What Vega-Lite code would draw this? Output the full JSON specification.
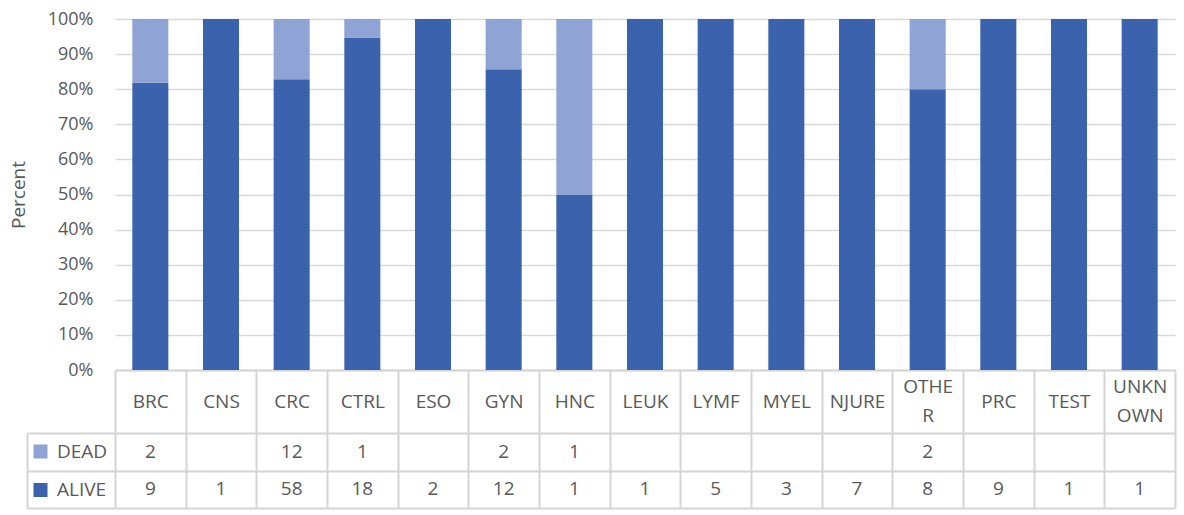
{
  "$schema": "https://vega.github.io/schema/vega-lite/v6.json",
  "padding": {"left": 9, "top": 10, "right": 5, "bottom": 5},
  "datasets": {
    "counts": [
      {"category": "BRC", "status": "ALIVE", "count": 9},
      {"category": "BRC", "status": "DEAD", "count": 2},
      {"category": "CNS", "status": "ALIVE", "count": 1},
      {"category": "CRC", "status": "ALIVE", "count": 58},
      {"category": "CRC", "status": "DEAD", "count": 12},
      {"category": "CTRL", "status": "ALIVE", "count": 18},
      {"category": "CTRL", "status": "DEAD", "count": 1},
      {"category": "ESO", "status": "ALIVE", "count": 2},
      {"category": "GYN", "status": "ALIVE", "count": 12},
      {"category": "GYN", "status": "DEAD", "count": 2},
      {"category": "HNC", "status": "ALIVE", "count": 1},
      {"category": "HNC", "status": "DEAD", "count": 1},
      {"category": "LEUK", "status": "ALIVE", "count": 1},
      {"category": "LYMF", "status": "ALIVE", "count": 5},
      {"category": "MYEL", "status": "ALIVE", "count": 3},
      {"category": "NJURE", "status": "ALIVE", "count": 7},
      {"category": "OTHER", "status": "ALIVE", "count": 8},
      {"category": "OTHER", "status": "DEAD", "count": 2},
      {"category": "PRC", "status": "ALIVE", "count": 9},
      {"category": "TEST", "status": "ALIVE", "count": 1},
      {"category": "UNKNOWN", "status": "ALIVE", "count": 1}
    ]
  },
  "spacing": 63,
  "bounds": "flush",
  "vconcat": [
    {
      "width": 1060,
      "height": 351,
      "data": {"name": "counts"},
      "mark": {"type": "bar", "width": {"band": 0.51}},
      "encoding": {
        "x": {
          "field": "category",
          "type": "nominal",
          "scale": {"type": "band", "paddingInner": 0, "paddingOuter": 0},
          "axis": {
            "orient": "bottom",
            "title": null,
            "labelAngle": 0,
            "tickBand": "extent",
            "tickSize": 63,
            "tickColor": "#D4D4D4",
            "tickWidth": 2,
            "domainColor": "#D4D4D4",
            "domainWidth": 2,
            "labelPadding": {
              "condition": {"test": "datum.value == 'OTHER' || datum.value == 'UNKNOWN'", "value": -46.5},
              "value": -32
            },
            "labelBaseline": "middle",
            "labelFontSize": 19,
            "labelColor": "#595959",
            "labelLineHeight": 29,
            "labelExpr": "datum.label == 'OTHER' ? ['OTHE', 'R'] : datum.label == 'UNKNOWN' ? ['UNKN', 'OWN'] : datum.label",
            "grid": false
          }
        },
        "y": {
          "field": "count",
          "type": "quantitative",
          "stack": "normalize",
          "scale": {"domain": [0, 1]},
          "axis": {
            "values": [0, 0.1, 0.2, 0.3, 0.4, 0.5, 0.6, 0.7, 0.8, 0.9, 1],
            "format": ".0%",
            "domain": false,
            "ticks": false,
            "grid": true,
            "gridColor": "#D9D9D9",
            "gridWidth": 1.5,
            "labelPadding": 22,
            "labelFontSize": 18,
            "labelColor": "#595959",
            "title": "Percent",
            "titleFontSize": 19,
            "titleColor": "#595959",
            "titleFontWeight": "normal",
            "titlePadding": 19
          }
        },
        "color": {
          "field": "status",
          "type": "nominal",
          "scale": {"domain": ["DEAD", "ALIVE"], "range": ["#8FA4D4", "#3B63AD"]},
          "legend": {
            "orient": "none",
            "legendX": -84,
            "legendY": 423,
            "direction": "vertical",
            "title": null,
            "padding": 0,
            "symbolType": "square",
            "symbolSize": 196,
            "symbolStrokeWidth": 0,
            "symbolOpacity": 1,
            "labelFontSize": 19,
            "labelColor": "#595959",
            "labelOffset": 7,
            "rowPadding": 18.5
          }
        },
        "order": {"field": "status", "sort": "ascending"}
      }
    },
    {
      "width": 1060,
      "height": 75,
      "data": {"name": "counts"},
      "mark": {"type": "text", "fontSize": 19, "color": "#595959"},
      "encoding": {
        "x": {
          "field": "category",
          "type": "nominal",
          "scale": {"type": "band", "paddingInner": 0, "paddingOuter": 0},
          "axis": {
            "title": null,
            "labels": false,
            "ticks": false,
            "domain": false,
            "grid": true,
            "tickBand": "extent",
            "gridColor": "#D4D4D4",
            "gridWidth": 2
          }
        },
        "y": {
          "field": "status",
          "type": "nominal",
          "scale": {"type": "band", "domain": ["DEAD", "ALIVE"], "paddingInner": 0, "paddingOuter": 0},
          "axis": {
            "orient": "left",
            "offset": 88,
            "title": null,
            "labels": false,
            "domain": true,
            "domainColor": "#D4D4D4",
            "domainWidth": 2,
            "ticks": true,
            "tickBand": "extent",
            "tickSize": -88,
            "tickColor": "#D4D4D4",
            "tickWidth": 2,
            "grid": true,
            "gridColor": "#D4D4D4",
            "gridWidth": 2
          }
        },
        "text": {"field": "count", "type": "quantitative"}
      }
    }
  ],
  "config": {
    "font": "Open Sans",
    "view": {"stroke": null}
  }
}
